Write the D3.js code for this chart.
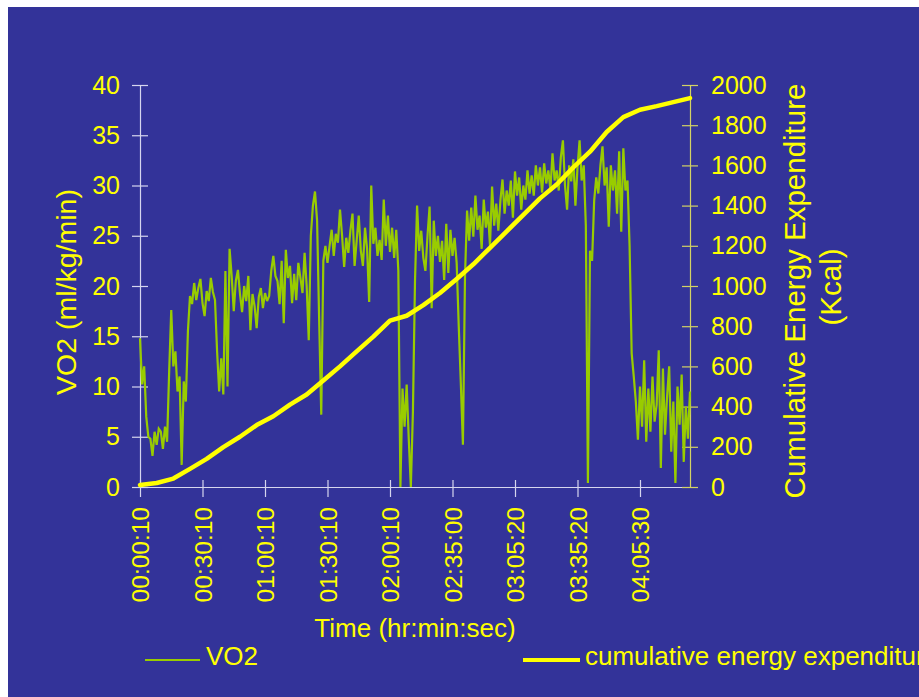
<!DOCTYPE html>
<html>
<head>
<meta charset="utf-8">
<script src="https://cdn.jsdelivr.net/npm/d3@7"></script>
<style>
  html, body { margin: 0; padding: 0; background: #ffffff; }
  svg { display: block; }
  text { font-family: "Liberation Sans", Arial, sans-serif; fill: #ffff00; }
</style>
</head>
<body>
<svg id="chart" width="919" height="697"></svg>
<script>
// ---- data (one sample per category) ----
const xTickLabels = ["00:00:10", "00:30:10", "01:00:10", "01:30:10", "02:00:10",
                     "02:35:00", "03:05:20", "03:35:20", "04:05:30"];
const samplesPerLabel = 30;

// VO2 (ml/kg/min), samples 0..264
const vo2 = [
  14.8, 10.2, 12.0, 7.0, 5.0, 4.8, 3.1, 5.5, 4.2, 5.8,
  5.5, 3.8, 6.0, 4.5, 11.5, 17.6, 12.0, 13.5, 9.5, 11.0,
  2.2, 10.5, 8.5, 15.5, 19.0, 18.2, 20.3, 18.6, 19.8, 20.7,
  18.3, 17.0, 19.5, 18.5, 20.8, 19.4, 18.6, 13.5, 9.5, 12.8,
  9.2, 21.5, 10.0, 23.7, 21.0, 17.5, 20.5, 21.6, 19.2, 17.4,
  20.0, 18.5, 21.0, 15.6, 19.2, 18.0, 15.8, 18.9, 19.8, 17.8,
  19.3, 18.5, 19.0, 21.5, 23.0, 21.0, 20.5, 18.2, 22.5, 16.3,
  23.6, 20.8, 22.0, 18.3, 21.2, 18.6, 22.3, 20.8, 19.3, 23.3,
  20.0, 14.6, 25.0, 28.0, 29.4, 26.5, 16.6, 7.2, 22.5, 24.0,
  22.3, 24.0, 25.6, 23.0, 25.2, 24.3, 27.6, 25.0, 21.9, 24.8,
  23.3, 25.5, 27.2, 22.0, 24.5, 27.0, 23.5, 22.0, 25.8, 23.7,
  18.4, 30.0, 24.2, 25.8, 23.0, 24.6, 22.6, 28.6, 24.0, 27.0,
  23.4, 25.8, 22.8, 25.6, 21.5, 0.0, 9.8, 6.0, 10.2, 4.8,
  0.0, 7.5, 20.5, 28.0, 23.5, 25.5, 22.8, 21.5, 25.0, 27.9,
  17.8, 26.5, 23.0, 25.0, 22.4, 24.5, 20.6, 26.2, 21.3, 25.6,
  23.0, 24.8, 22.3, 16.0, 10.3, 4.2, 21.0, 27.5, 24.5, 27.8,
  24.9, 29.0, 25.6, 27.0, 23.7, 28.6, 25.8, 27.4, 24.0, 29.9,
  26.0, 28.2, 25.5, 28.5, 30.6, 27.2, 29.5, 28.0, 30.5, 26.8,
  31.4, 29.0, 30.8, 27.6, 30.0, 28.6, 31.5, 29.2, 31.0, 29.0,
  32.0, 30.0, 31.8, 29.3, 32.2, 30.2, 31.5, 29.6, 33.2, 30.5,
  31.5, 29.5, 32.8, 34.5, 30.0, 27.6, 32.0, 30.4, 32.6, 28.0,
  31.8, 34.5, 30.5, 32.0, 26.0, 0.4, 23.5, 22.5, 28.5, 30.8,
  29.2, 32.0, 33.9, 30.0, 31.8, 25.9, 32.0, 29.5, 31.5, 27.2,
  33.4, 25.4, 33.7, 29.5, 30.5, 24.0, 13.3, 11.0, 8.5, 4.7,
  10.0, 6.0, 12.6, 4.5, 9.8, 5.5, 11.0, 6.5, 8.2, 13.6,
  1.9, 11.8, 5.2, 9.0, 12.0, 3.5, 8.5, 0.4, 10.0, 6.2,
  11.2, 2.5, 8.0, 4.8, 9.5
];

// Cumulative energy expenditure (Kcal), read every 8th sample (0, 8, ..., 264)
const energyStep = 8;
const energy = [
  10, 20, 42, 90, 140, 198, 250, 308, 352, 410,
  460, 530, 600, 675, 748, 828, 852, 905, 965, 1035,
  1108, 1190, 1272, 1354, 1436, 1505, 1590, 1668, 1766, 1840,
  1877, 1895, 1915, 1935
];

const vo2Ticks = [0, 5, 10, 15, 20, 25, 30, 35, 40];
const energyTicks = [0, 200, 400, 600, 800, 1000, 1200, 1400, 1600, 1800, 2000];

// ---- drawing ----
const svg = d3.select("#chart");
const W = 919, H = 697;
const plotLeft = 140, plotRight = 690, plotTop = 85, plotBottom = 487;

svg.append("rect").attr("x", 8).attr("y", 7).attr("width", W - 8).attr("height", H - 7)
  .attr("fill", "#333399");

const x = d3.scaleLinear().domain([0, vo2.length - 1]).range([plotLeft, plotRight]);
const y = d3.scaleLinear().domain([0, 40]).range([plotBottom, plotTop]);
const y2 = d3.scaleLinear().domain([0, 2000]).range([plotBottom, plotTop]);

const axisColor = "#d6d6ee";
const rightAxisColor = "#d2d264";
const fontFam = "'Liberation Sans', Arial, sans-serif";

// X axis
const xTickVals = xTickLabels.map((d, i) => i * samplesPerLabel);
const gx = svg.append("g").attr("transform", `translate(0,${plotBottom})`)
  .call(d3.axisBottom(x).tickValues(xTickVals).tickFormat((d, i) => xTickLabels[i])
    .tickSizeInner(10).tickSizeOuter(0));
gx.select(".domain").attr("stroke", axisColor).attr("stroke-width", 1.2);
gx.selectAll(".tick line").attr("stroke", axisColor).attr("stroke-width", 1.2).attr("y1", -7);
gx.selectAll(".tick text")
  .attr("transform", "rotate(-90)")
  .attr("x", -20).attr("y", 0).attr("dy", "0.36em")
  .attr("text-anchor", "end")
  .style("font-size", "24.5px").style("font-family", fontFam)
  .attr("fill", "#ffff00");

// Left axis
const gy = svg.append("g").attr("transform", `translate(${plotLeft},0)`)
  .call(d3.axisLeft(y).tickValues(vo2Ticks).tickFormat(d3.format("d"))
    .tickSizeInner(8).tickSizeOuter(0).tickPadding(12));
gy.select(".domain").attr("stroke", axisColor).attr("stroke-width", 1.2);
gy.selectAll(".tick line").attr("stroke", axisColor).attr("stroke-width", 1.2).attr("x1", 8);
gy.selectAll(".tick text").style("font-size", "25px")
  .style("font-family", fontFam).attr("fill", "#ffff00");

// Right axis
const gy2 = svg.append("g").attr("transform", `translate(${plotRight},0)`)
  .call(d3.axisRight(y2).tickValues(energyTicks).tickFormat(d3.format("d"))
    .tickSizeInner(8).tickSizeOuter(0).tickPadding(13));
gy2.select(".domain").attr("stroke", rightAxisColor).attr("stroke-width", 1.2);
gy2.selectAll(".tick line").attr("stroke", rightAxisColor).attr("stroke-width", 1.2).attr("x1", -8);
gy2.selectAll(".tick text").style("font-size", "25px")
  .style("font-family", fontFam).attr("fill", "#ffff00");

// VO2 line
svg.append("path").datum(vo2)
  .attr("fill", "none").attr("stroke", "#99cc00").attr("stroke-width", 2.2)
  .attr("stroke-linejoin", "miter").attr("stroke-miterlimit", 3)
  .attr("d", d3.line().x((d, i) => x(i)).y(d => y(d)));

// Cumulative energy line
svg.append("path").datum(energy)
  .attr("fill", "none").attr("stroke", "#ffff00").attr("stroke-width", 4.5)
  .attr("stroke-linejoin", "round").attr("stroke-linecap", "round")
  .attr("d", d3.line().x((d, i) => x(i * energyStep)).y(d => y2(d)));

// Axis titles
svg.append("text").attr("transform", `translate(415,637)`)
  .attr("text-anchor", "middle").style("font-size", "26px").text("Time (hr:min:sec)");

svg.append("text").attr("transform", `translate(66,292) rotate(-90)`)
  .attr("text-anchor", "middle").attr("dy", "0.35em").style("font-size", "28.5px")
  .text("VO2 (ml/kg/min)");

svg.append("text").attr("transform", `translate(795,291) rotate(-90)`)
  .attr("text-anchor", "middle").attr("dy", "0.35em").style("font-size", "29.5px")
  .text("Cumulative Energy Expenditure");
svg.append("text").attr("transform", `translate(831,287) rotate(-90)`)
  .attr("text-anchor", "middle").attr("dy", "0.35em").style("font-size", "29.5px")
  .text("(Kcal)");

// Legend
const legend = svg.append("g");
legend.append("line").attr("x1", 145).attr("x2", 200).attr("y1", 660).attr("y2", 660)
  .attr("stroke", "#99cc00").attr("stroke-width", 2);
legend.append("text").attr("x", 206).attr("y", 665).style("font-size", "26px").text("VO2");
legend.append("line").attr("x1", 523).attr("x2", 580).attr("y1", 660).attr("y2", 660)
  .attr("stroke", "#ffff00").attr("stroke-width", 4);
legend.append("text").attr("x", 585).attr("y", 665).style("font-size", "26px")
  .text("cumulative energy expenditure");
</script>
</body>
</html>
